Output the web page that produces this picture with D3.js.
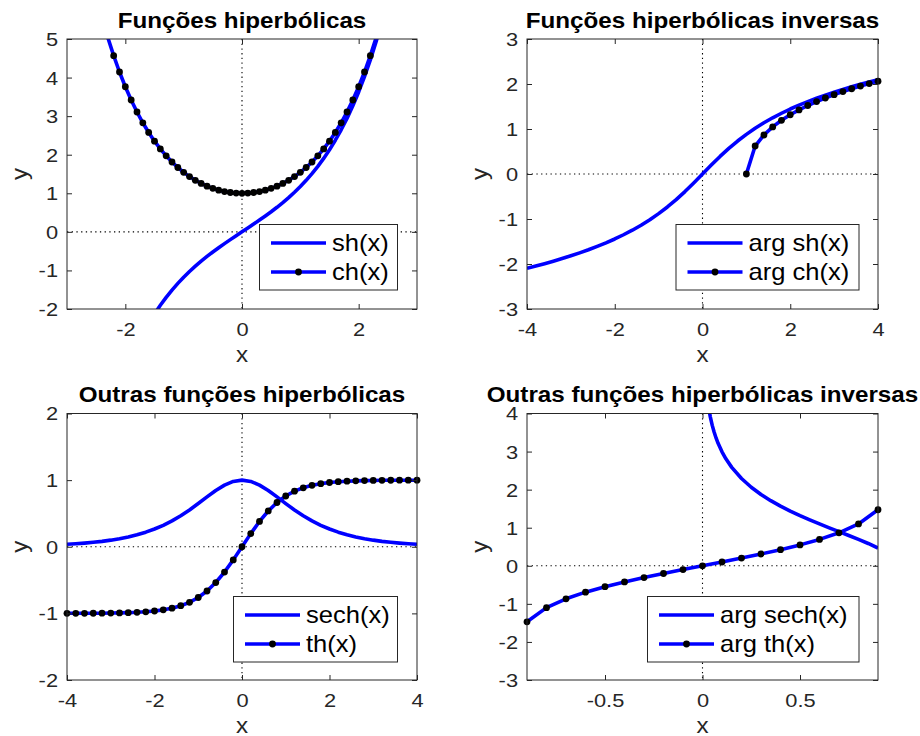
<!DOCTYPE html>
<html>
<head>
<meta charset="utf-8">
<script src="https://cdn.jsdelivr.net/npm/d3@7"></script>
<style>
  body { margin: 0; background: #fff; }
  svg { display: block; font-family: "Liberation Sans", Arial, Helvetica, sans-serif; }
</style>
</head>
<body>
<svg id="fig" width="920" height="736"></svg>
<script>
// top left: sh(x) and ch(x)
var xHyp = [-2.4, -2.3, -2.2, -2.1, -2.0, -1.9, -1.8, -1.7, -1.6, -1.5, -1.4, -1.3, -1.2, -1.1, -1.0, -0.9, -0.8, -0.7, -0.6, -0.5, -0.4, -0.3, -0.2, -0.1,
  0, 0.1, 0.2, 0.3, 0.4, 0.5, 0.6, 0.7, 0.8, 0.9, 1.0, 1.1, 1.2, 1.3, 1.4, 1.5, 1.6, 1.7, 1.8, 1.9, 2.0, 2.1, 2.2, 2.3, 2.4];
var shVals = [-5.466, -4.937, -4.457, -4.022, -3.627, -3.268, -2.942, -2.646, -2.376, -2.129, -1.904, -1.698, -1.509, -1.336, -1.175, -1.027, -0.888, -0.759, -0.637, -0.521, -0.411, -0.305, -0.201, -0.100,
  0, 0.100, 0.201, 0.305, 0.411, 0.521, 0.637, 0.759, 0.888, 1.027, 1.175, 1.336, 1.509, 1.698, 1.904, 2.129, 2.376, 2.646, 2.942, 3.268, 3.627, 4.022, 4.457, 4.937, 5.466];
var chVals = [5.557, 5.037, 4.568, 4.144, 3.762, 3.418, 3.107, 2.828, 2.577, 2.352, 2.151, 1.971, 1.811, 1.669, 1.543, 1.433, 1.337, 1.255, 1.185, 1.128, 1.081, 1.045, 1.020, 1.005,
  1, 1.005, 1.020, 1.045, 1.081, 1.128, 1.185, 1.255, 1.337, 1.433, 1.543, 1.669, 1.811, 1.971, 2.151, 2.352, 2.577, 2.828, 3.107, 3.418, 3.762, 4.144, 4.568, 5.037, 5.557];

// top right: arg sh(x) and arg ch(x)
var xInv = [-4.0, -3.8, -3.6, -3.4, -3.2, -3.0, -2.8, -2.6, -2.4, -2.2, -2.0, -1.8, -1.6, -1.4, -1.2, -1.0, -0.8, -0.6, -0.4, -0.2,
  0, 0.2, 0.4, 0.6, 0.8, 1.0, 1.2, 1.4, 1.6, 1.8, 2.0, 2.2, 2.4, 2.6, 2.8, 3.0, 3.2, 3.4, 3.6, 3.8, 4.0];
var argShVals = [-2.095, -2.045, -1.993, -1.938, -1.880, -1.818, -1.753, -1.684, -1.609, -1.530, -1.444, -1.350, -1.249, -1.138, -1.016, -0.881, -0.733, -0.569, -0.390, -0.199,
  0, 0.199, 0.390, 0.569, 0.733, 0.881, 1.016, 1.138, 1.249, 1.350, 1.444, 1.530, 1.609, 1.684, 1.753, 1.818, 1.880, 1.938, 1.993, 2.045, 2.095];
var xArgCh = [1.0, 1.2, 1.4, 1.6, 1.8, 2.0, 2.2, 2.4, 2.6, 2.8, 3.0, 3.2, 3.4, 3.6, 3.8, 4.0];
var argChVals = [0, 0.622, 0.867, 1.047, 1.193, 1.317, 1.425, 1.522, 1.609, 1.689, 1.763, 1.831, 1.895, 1.954, 2.010, 2.063];

// bottom left: sech(x) and th(x)
var xOut = xInv;
var sechVals = [0.037, 0.045, 0.055, 0.067, 0.081, 0.099, 0.121, 0.148, 0.180, 0.219, 0.266, 0.322, 0.388, 0.465, 0.552, 0.648, 0.748, 0.844, 0.925, 0.980,
  1, 0.980, 0.925, 0.844, 0.748, 0.648, 0.552, 0.465, 0.388, 0.322, 0.266, 0.219, 0.180, 0.148, 0.121, 0.099, 0.081, 0.067, 0.055, 0.045, 0.037];
var thVals = [-0.999, -0.999, -0.999, -0.998, -0.997, -0.995, -0.993, -0.989, -0.984, -0.976, -0.964, -0.947, -0.922, -0.885, -0.834, -0.762, -0.664, -0.537, -0.380, -0.197,
  0, 0.197, 0.380, 0.537, 0.664, 0.762, 0.834, 0.885, 0.922, 0.947, 0.964, 0.976, 0.984, 0.989, 0.993, 0.995, 0.997, 0.998, 0.999, 0.999, 0.999];

// bottom right: arg sech(x) and arg th(x)
var xArgSech = [0.03, 0.04, 0.05, 0.06, 0.07, 0.08, 0.10, 0.12, 0.15, 0.20, 0.25, 0.30, 0.35, 0.40, 0.45, 0.50, 0.55, 0.60, 0.65, 0.70, 0.75, 0.80, 0.85, 0.90];
var argSechVals = [4.200, 3.912, 3.688, 3.506, 3.351, 3.217, 2.993, 2.810, 2.585, 2.292, 2.063, 1.874, 1.711, 1.567, 1.437, 1.317, 1.205, 1.099, 0.996, 0.896, 0.795, 0.693, 0.586, 0.467];
var xArgTh = [-0.9, -0.8, -0.7, -0.6, -0.5, -0.4, -0.3, -0.2, -0.1, 0, 0.1, 0.2, 0.3, 0.4, 0.5, 0.6, 0.7, 0.8, 0.9];
var argThVals = [-1.472, -1.099, -0.867, -0.693, -0.549, -0.424, -0.310, -0.203, -0.100, 0, 0.100, 0.203, 0.310, 0.424, 0.549, 0.693, 0.867, 1.099, 1.472];

// tick values
var ticksX1 = [-2, 0, 2], ticksY1 = [-2, -1, 0, 1, 2, 3, 4, 5];
var ticksX2 = [-4, -2, 0, 2, 4], ticksY2 = [-3, -2, -1, 0, 1, 2, 3];
var ticksX3 = [-4, -2, 0, 2, 4], ticksY3 = [-2, -1, 0, 1, 2];
var ticksX4 = [-0.5, 0, 0.5], ticksY4 = [-3, -2, -1, 0, 1, 2, 3, 4];

var svg = d3.select("#fig");
var axisColor = "#262626";
var blue = "#0000ff";

function zip(xs, ys) {
  return xs.map((v, i) => [v, ys[i]]);
}

// plain hyphen minus, like the original figure
var fmt = d => String(d);

function drawPanel(p, idx) {
  var x = d3.scaleLinear().domain(p.xDomain).range([p.left, p.right]);
  var y = d3.scaleLinear().domain(p.yDomain).range([p.bottom, p.top]);
  var g = svg.append("g");

  // clip lines to the axes box
  g.append("clipPath").attr("id", "clip" + idx)
    .append("rect")
    .attr("x", p.left).attr("y", p.top)
    .attr("width", p.right - p.left).attr("height", p.bottom - p.top);

  // dotted zero lines
  g.append("line")
    .attr("x1", x(0)).attr("x2", x(0)).attr("y1", p.top).attr("y2", p.bottom)
    .attr("stroke", "#000").attr("stroke-width", 1.1).attr("stroke-dasharray", "1.3,3.4");
  g.append("line")
    .attr("x1", p.left).attr("x2", p.right).attr("y1", y(0)).attr("y2", y(0))
    .attr("stroke", "#000").attr("stroke-width", 1.1).attr("stroke-dasharray", "1.3,3.4");

  var line = d3.line().x(d => x(d[0])).y(d => y(d[1]));

  p.series.forEach(function(s) {
    g.append("path")
      .datum(s.data)
      .attr("clip-path", "url(#clip" + idx + ")")
      .attr("d", line)
      .attr("fill", "none")
      .attr("stroke", blue)
      .attr("stroke-width", 3.6)
      .attr("stroke-linejoin", "round");

    if (s.markers) {
      var inside = s.data.filter(d => d[0] >= p.xDomain[0] && d[0] <= p.xDomain[1] &&
        d[1] >= p.yDomain[0] && d[1] <= p.yDomain[1]);
      g.selectAll(null)
        .data(inside)
        .enter()
        .append("circle")
        .attr("cx", d => x(d[0]))
        .attr("cy", d => y(d[1]))
        .attr("r", 3.4)
        .attr("fill", "#000");
    }
  });

  // axes, ticks pointing inward on all four sides
  var bottomAxis = g.append("g")
    .attr("transform", `translate(0, ${p.bottom})`)
    .call(d3.axisBottom(x).tickValues(p.ticksX).tickSizeInner(-5).tickSizeOuter(0).tickFormat(fmt));
  var leftAxis = g.append("g")
    .attr("transform", `translate(${p.left}, 0)`)
    .call(d3.axisLeft(y).tickValues(p.ticksY).tickSizeInner(-5).tickSizeOuter(0).tickFormat(fmt));
  var topAxis = g.append("g")
    .attr("transform", `translate(0, ${p.top})`)
    .call(d3.axisTop(x).tickValues(p.ticksX).tickSizeInner(-5).tickSizeOuter(0).tickFormat(""));
  var rightAxis = g.append("g")
    .attr("transform", `translate(${p.right}, 0)`)
    .call(d3.axisRight(y).tickValues(p.ticksY).tickSizeInner(-5).tickSizeOuter(0).tickFormat(""));

  [bottomAxis, leftAxis, topAxis, rightAxis].forEach(function(a) {
    a.select(".domain").remove();
    a.selectAll("line").attr("stroke", axisColor);
  });

  bottomAxis.selectAll("text")
    .attr("y", 27).attr("dy", null)
    .attr("fill", axisColor)
    .attr("font-size", 18.5)
    .attr("font-family", null)
    .attr("transform", "scale(1.18,1)");
  leftAxis.selectAll("text")
    .attr("x", -9 / 1.18).attr("dy", "0.35em")
    .attr("fill", axisColor)
    .attr("font-size", 18.5)
    .attr("font-family", null)
    .attr("transform", "scale(1.18,1)");

  // box
  g.append("rect")
    .attr("x", p.left).attr("y", p.top)
    .attr("width", p.right - p.left).attr("height", p.bottom - p.top)
    .attr("fill", "none").attr("stroke", axisColor).attr("stroke-width", 1);

  var cx = (p.left + p.right) / 2;
  var cy = (p.top + p.bottom) / 2;

  // title
  g.append("text")
    .attr("transform", `translate(${cx}, ${p.titleY}) scale(1.1,1)`)
    .attr("text-anchor", "middle")
    .attr("font-weight", "bold")
    .attr("font-size", 22)
    .attr("fill", "#000")
    .text(p.title);

  // axis labels
  g.append("text")
    .attr("transform", `translate(${cx}, ${p.bottom + 53}) scale(1.1,1)`)
    .attr("text-anchor", "middle")
    .attr("font-size", 22)
    .attr("fill", axisColor)
    .text("x");
  g.append("text")
    .attr("transform", `translate(${p.left - 40}, ${cy}) rotate(-90) scale(1.1,1)`)
    .attr("text-anchor", "middle")
    .attr("font-size", 22)
    .attr("fill", axisColor)
    .text("y");

  // legend
  var lg = g.append("g");
  var L = p.legend;
  lg.append("rect")
    .attr("x", L.x).attr("y", L.y).attr("width", L.w).attr("height", 65.5)
    .attr("fill", "#fff").attr("stroke", axisColor).attr("stroke-width", 1);
  p.series.forEach(function(s, i) {
    var ry = L.y + 18.5 + i * 29;
    var lx0 = L.x + 11.5, lx1 = lx0 + 55;
    lg.append("line")
      .attr("x1", lx0).attr("x2", lx1).attr("y1", ry).attr("y2", ry)
      .attr("stroke", blue).attr("stroke-width", 3.6);
    if (s.markers) {
      lg.append("circle")
        .attr("cx", (lx0 + lx1) / 2).attr("cy", ry).attr("r", 3.4).attr("fill", "#000");
    }
    lg.append("text")
      .attr("transform", `translate(${lx1 + 6}, ${ry + 8}) scale(1.11,1)`)
      .attr("font-size", 23)
      .attr("fill", "#000")
      .text(s.name);
  });
}

var panels = [
  {
    left: 67, right: 417, top: 39, bottom: 309, titleY: 27.5,
    xDomain: [-3, 3], yDomain: [-2, 5], ticksX: ticksX1, ticksY: ticksY1,
    title: "Funções hiperbólicas",
    series: [
      { name: "sh(x)", data: zip(xHyp, shVals), markers: false },
      { name: "ch(x)", data: zip(xHyp, chVals), markers: true }
    ],
    legend: { x: 259.5, y: 224.5, w: 138 }
  },
  {
    left: 527, right: 878, top: 39, bottom: 309, titleY: 27.5,
    xDomain: [-4, 4], yDomain: [-3, 3], ticksX: ticksX2, ticksY: ticksY2,
    title: "Funções hiperbólicas inversas",
    series: [
      { name: "arg sh(x)", data: zip(xInv, argShVals), markers: false },
      { name: "arg ch(x)", data: zip(xArgCh, argChVals), markers: true }
    ],
    legend: { x: 676, y: 224.5, w: 183 }
  },
  {
    left: 67, right: 417, top: 413.5, bottom: 680, titleY: 402,
    xDomain: [-4, 4], yDomain: [-2, 2], ticksX: ticksX3, ticksY: ticksY3,
    title: "Outras funções hiperbólicas",
    series: [
      { name: "sech(x)", data: zip(xOut, sechVals), markers: false },
      { name: "th(x)", data: zip(xOut, thVals), markers: true }
    ],
    legend: { x: 233.5, y: 596.5, w: 164 }
  },
  {
    left: 527, right: 878, top: 413.5, bottom: 680, titleY: 402,
    xDomain: [-0.9, 0.9], yDomain: [-3, 4], ticksX: ticksX4, ticksY: ticksY4,
    title: "Outras funções hiperbólicas inversas",
    series: [
      { name: "arg sech(x)", data: zip(xArgSech, argSechVals), markers: false },
      { name: "arg th(x)", data: zip(xArgTh, argThVals), markers: true }
    ],
    legend: { x: 647.5, y: 596.5, w: 211.5 }
  }
];

panels.forEach(drawPanel);
</script>
</body>
</html>
